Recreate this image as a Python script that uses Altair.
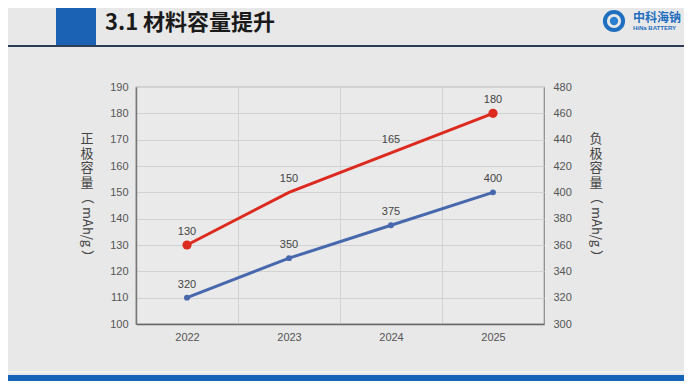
import altair as alt
import pandas as pd

# ---- data ----
years = [2022, 2023, 2024, 2025]
cathode = [130, 150, 165, 180]   # 正极容量 (left axis)
anode = [320, 350, 375, 400]     # 负极容量 (right axis)
left_ticks = list(range(100, 191, 10))
right_ticks = list(range(300, 481, 20))
title_text = "3.1 材料容量提升"
left_title = ["正", "极", "容", "量"]
right_title = ["负", "极", "容", "量"]
unit_text = "（ mAh/g ）"
logo_cn = "中科海钠"
logo_en = "HiNa BATTERY"

df = pd.DataFrame({"year": years, "cathode": cathode, "anode": anode})

RED = "#dc2a1f"
BLUE = "#4868ad"
BG = "#e8e8e8"
FONT = "Liberation Sans"
CJK = "Noto Sans CJK SC"

x_vals = sorted(years + [y + 0.5 for y in years[:-1]])
x_enc = alt.X(
    "year:Q",
    scale=alt.Scale(domain=[years[0] - 0.5, years[-1] + 0.5], nice=False, zero=False),
    axis=alt.Axis(
        values=x_vals,
        title=None,
        ticks=False,
        grid=True,
        gridColor="#d2d2d2",
        gridOpacity=alt.condition("datum.value % 1 === 0", alt.value(0), alt.value(1)),
        labelExpr="datum.value % 1 === 0 ? format(datum.value, 'd') : ''",
        labelFont=FONT,
        labelFontSize=11,
        labelColor="#555555",
        labelPadding=7,
        domainColor="#666666",
        domainWidth=1.5,
    ),
)

base = alt.Chart(df)

y_left = alt.Y(
    "cathode:Q",
    scale=alt.Scale(domain=[left_ticks[0], left_ticks[-1]], nice=False, zero=False),
    axis=alt.Axis(
        values=left_ticks,
        title=None,
        ticks=False,
        grid=True,
        gridColor="#d2d2d2",
        labelFont=FONT,
        labelFontSize=11,
        labelColor="#555555",
        labelPadding=8,
        domainColor="#777777",
        domainWidth=1.5,
    ),
)
y_right = alt.Y(
    "anode:Q",
    scale=alt.Scale(domain=[right_ticks[0], right_ticks[-1]], nice=False, zero=False),
    axis=alt.Axis(
        orient="right",
        values=right_ticks,
        title=None,
        ticks=False,
        grid=False,
        domain=False,
        labelFont=FONT,
        labelFontSize=11,
        labelColor="#555555",
        labelPadding=9,
    ),
)

end_filter = f"datum.year == {years[0]} || datum.year == {years[-1]}"

red_line = base.mark_line(color=RED, strokeWidth=3).encode(x=x_enc, y=y_left)
red_pts = base.transform_filter(end_filter).mark_point(
    filled=True, color=RED, size=85, opacity=1
).encode(x=x_enc, y=y_left)
red_lbl = base.mark_text(
    dy=-13, font=FONT, fontSize=11, color="#444444"
).encode(x=x_enc, y=y_left, text="cathode:Q")
left_layer = alt.layer(red_line, red_pts, red_lbl)

blue_line = base.mark_line(color=BLUE, strokeWidth=3).encode(x=x_enc, y=y_right)
blue_pts = base.mark_point(filled=True, color=BLUE, size=35, opacity=1).encode(
    x=x_enc, y=y_right
)
blue_lbl = base.mark_text(
    dy=-13, font=FONT, fontSize=11, color="#444444"
).encode(x=x_enc, y=y_right, text="anode:Q")
right_layer = alt.layer(blue_line, blue_pts, blue_lbl)

one = alt.Data(values=[{"a": 1}])

# axis titles (stacked vertical CJK + rotated unit)
def stacked(chars, xpos):
    return alt.Chart(one).mark_text(
        text=chars, font=CJK, fontSize=13, lineHeight=14.5, baseline="top",
        align="center", color="#444444"
    ).encode(x=alt.value(xpos), y=alt.value(46))


def unit(xpos):
    return alt.Chart(one).mark_text(
        text=unit_text, font=CJK, fontSize=13, angle=90, baseline="middle",
        align="center", color="#444444"
    ).encode(x=alt.value(xpos), y=alt.value(140))


lt, lu = stacked(left_title, -49), unit(-49)
rt, ru = stacked(right_title, 460), unit(460)

# slide header / footer decoration
block = alt.Chart(one).mark_rect(color="#1b62b4").encode(
    x=alt.value(-80), x2=alt.value(-40), y=alt.value(-90), y2=alt.value(-42)
)
hline = alt.Chart(one).mark_rule(color="#2b3d55", strokeWidth=2).encode(
    x=alt.value(-140), x2=alt.value(560), y=alt.value(-41)
)
title = alt.Chart(one).mark_text(
    text=title_text, font=CJK, fontSize=22, fontWeight="bold", align="left",
    baseline="middle", color="#1a1a1a"
).encode(x=alt.value(-31), y=alt.value(-64))
ring = alt.Chart(one).mark_point(
    shape="circle", filled=False, color="#1f6fc0", strokeWidth=4, size=330, opacity=1
).encode(x=alt.value(478), y=alt.value(-66))
dot = alt.Chart(one).mark_point(
    shape="circle", filled=True, color="#2a7fd0", size=70, opacity=1
).encode(x=alt.value(478), y=alt.value(-66))
logo1 = alt.Chart(one).mark_text(
    text=logo_cn, font=CJK, fontSize=12, fontWeight="bold", align="left",
    baseline="middle", color="#1f6fc0"
).encode(x=alt.value(497), y=alt.value(-69))
logo2 = alt.Chart(one).mark_text(
    text=logo_en, font=FONT, fontSize=6, fontWeight="bold", align="left",
    baseline="middle", color="#1f6fc0"
).encode(x=alt.value(497), y=alt.value(-59))
footer = alt.Chart(one).mark_rect(color="#1664b8").encode(
    x=alt.value(-140), x2=alt.value(560), y=alt.value(288), y2=alt.value(300)
)
fline = alt.Chart(one).mark_rule(color="#f4f4f4", strokeWidth=1.5).encode(
    x=alt.value(-140), x2=alt.value(560), y=alt.value(285)
)

chart = (
    alt.layer(
        left_layer, right_layer, lt, lu, rt, ru,
        block, hline, title, ring, dot, logo1, logo2, footer, fline,
    )
    .resolve_scale(y="independent")
    .properties(
        width=408,
        height=237,
        autosize=alt.AutoSizeParams(type="none"),
        padding={"left": 128, "top": 79, "right": 140, "bottom": 57},
        background=BG,
    )
    .configure_view(stroke="#8a8a8a", strokeWidth=1.2, fill="#eaeaea")
)

chart.save("out.html", embed_options={"renderer": "svg", "actions": False})
